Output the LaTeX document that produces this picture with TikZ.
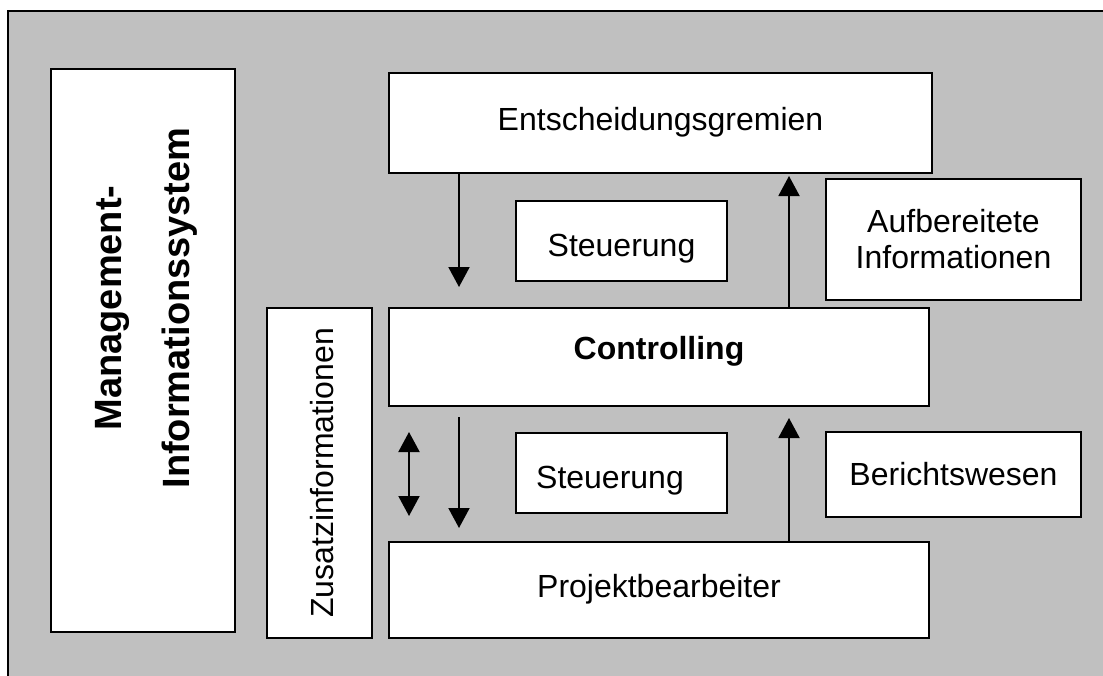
\documentclass[tikz,border=0pt]{standalone}
\usepackage{fontspec}
\setmainfont{Liberation Sans}
\usetikzlibrary{arrows.meta,calc}
\definecolor{panel}{RGB}{192,192,192}
\begin{document}
\begin{tikzpicture}[x=0.5pt,y=-0.5pt,
  box/.style={draw=black, fill=white, line width=1pt, outer sep=0pt, inner sep=0pt,
              font=\fontsize{16}{18}\selectfont},
  arr/.style={line width=1pt, -{Triangle[width=10.5pt,length=10pt]}},
  darr/.style={line width=1pt, {Triangle[width=10.5pt,length=10pt]}-{Triangle[width=10.5pt,length=10pt]}}]
\useasboundingbox (0,0) rectangle (1103,675);
\fill[white] (0,0) rectangle (1103,675);
% grey panel behind everything
\begin{scope}
  \clip (0,0) rectangle (1103,675);
  \draw[line width=1pt, fill=panel] (8,11) rectangle (1130,700);
\end{scope}

% left column
\node[box, minimum width=92pt, minimum height=281.5pt] (mis) at (143,350.5) {};
\node[font=\fontsize{19}{34}\selectfont\bfseries, rotate=90, align=center, inner sep=0pt]
  (mislabel) at (146.5,308) {Management-\\Informationssystem};
\node[box, rotate=90, minimum width=165pt, minimum height=52.5pt] (zus) at (319.5,473)
  {\raisebox{-1.4pt}[\height][\depth]{Zusatzinformationen}};

% main chain
\node[box, minimum width=271.5pt, minimum height=50pt] (ent) at (660.5,123)
  {\raisebox{0.6pt}[\height][\depth]{Entscheidungsgremien}};
\node[box, minimum width=270pt, minimum height=49pt, font=\fontsize{16}{18}\selectfont\bfseries]
  (ctrl) at (659,357) {\raisebox{3pt}[\height][\depth]{Controlling}};
\node[box, minimum width=270pt, minimum height=48pt] (proj) at (659,590)
  {\raisebox{0.6pt}[\height][\depth]{Projektbearbeiter}};

% flow labels
\node[box, minimum width=105.5pt, minimum height=40pt] (st1) at (621.5,241)
  {\raisebox{-3.9pt}[\height][\depth]{Steuerung}};
\node[box, minimum width=105.5pt, minimum height=40pt] (st2) at (621.5,473)
  {\raisebox{-3.9pt}[\height][\depth]{Steuerung\hspace*{11.5pt}}};
\node[box, minimum width=127.5pt, minimum height=60.5pt, align=center] (auf) at (953.5,239.5)
  {Aufbereitete\\Informationen};
\node[box, minimum width=127.5pt, minimum height=42.5pt] (ber) at (953.5,474.5) {Berichtswesen};

% connectors
\draw[arr, shorten >=10.5pt] ($(ent.south west)+(70,0)$) -- ($(ctrl.north west)+(70,0)$);
\draw[arr, shorten >=1.5pt] ($(ctrl.north west)+(400,0)$) -- ($(ent.south west)+(400,0)$);
\draw[arr, shorten <=5.5pt, shorten >=7pt] ($(ctrl.south west)+(70,0)$) -- ($(proj.north west)+(70,0)$);
\draw[arr, shorten >=6pt] ($(proj.north west)+(400,0)$) -- ($(ctrl.south west)+(400,0)$);
\draw[darr, shorten <=13pt, shorten >=13pt] ($(ctrl.south west)+(20,0)$) -- ($(proj.north west)+(20,0)$);
\end{tikzpicture}
\end{document}
